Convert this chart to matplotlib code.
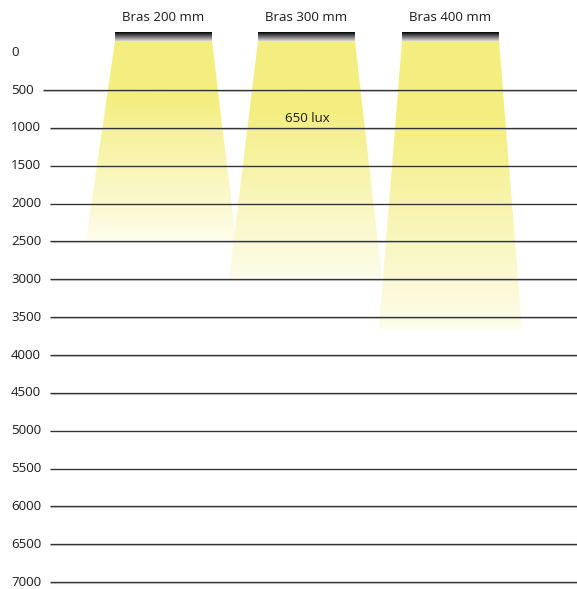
import numpy as np
import matplotlib
matplotlib.use("Agg")
import matplotlib.pyplot as plt
from matplotlib.patches import Polygon

plt.rcParams['font.family'] = ['Open Sans', 'DejaVu Sans']

# ---- data ----
depth_ticks = list(range(0, 7001, 500))
grid_depths = list(range(500, 7001, 500))
beam_labels = ["Bras 200 mm", "Bras 300 mm", "Bras 400 mm"]
beam_depths = [2500, 3000, 3650]          # reach of each beam (mm)
beam_top_left = [115, 258, 402]
beam_top_right = [212, 355, 499]
beam_bot_left = [86, 229, 379]
beam_bot_right = [236, 382, 522]
lux_label = "650 lux"
lux_pos = (307, 880)

lamp_top, lamp_bot = -254, -148

W, H = 577, 589
fig = plt.figure(figsize=(W / 100, H / 100), dpi=100)
ax = fig.add_axes([0, 0, 1, 1])
ax.set_xlim(0, W)
ax.set_ylim(7091, -690)
ax.axis('off')

yellow = np.array([244, 238, 128]) / 255.0
white = np.array([1.0, 1.0, 1.0])

for lab, d, tl, tr, bl, br in zip(beam_labels, beam_depths, beam_top_left,
                                  beam_top_right, beam_bot_left, beam_bot_right):
    # beam gradient
    n = 256
    t = np.linspace(0, 1, n)[:, None]
    f = np.clip((t - 0.3) / 0.7, 0, 1) ** 0.9 * 0.84
    cols = yellow[None, :] * (1 - f) + white[None, :] * f
    img = np.repeat(cols[:, None, :], 2, axis=1)
    im = ax.imshow(img, extent=(min(bl, tl), max(br, tr), d, lamp_bot),
                   aspect='auto', interpolation='bilinear', zorder=1)
    poly = Polygon([(tl, lamp_bot), (tr, lamp_bot), (br, d), (bl, d)],
                   closed=True, facecolor='none', edgecolor='none')
    ax.add_patch(poly)
    im.set_clip_path(poly)
    # lamp bar
    g = np.linspace(0.0, 0.85, 64)[:, None]
    lamp = np.repeat(np.repeat(g, 2, axis=1)[:, :, None], 3, axis=2)
    ax.imshow(lamp, extent=(tl, tr, lamp_bot, lamp_top), aspect='auto',
              interpolation='bilinear', zorder=2)
    ax.text((tl + tr) / 2, -455, lab, ha='center', va='center',
            fontsize=9.5, color='#1a1a1a', zorder=3)

ax.text(lux_pos[0], lux_pos[1], lux_label, ha='center', va='center',
        fontsize=9.5, color='#1a1a1a', zorder=3)

tick_texts = []
for v in depth_ticks:
    tt = ax.text(11, v, str(v), ha='left', va='center', fontsize=9.5,
                 color='#1a1a1a', zorder=3)
    tick_texts.append((v, tt))

fig.canvas.draw()
renderer = fig.canvas.get_renderer()
inv = ax.transData.inverted()
for v, tt in tick_texts:
    if v not in grid_depths:
        continue
    bb = tt.get_window_extent(renderer)
    x0 = inv.transform((bb.x1 + 9, 0))[0]
    ax.plot([x0, W], [v + 9, v + 9], color='#cfcfcf', lw=0.8, zorder=2.4,
            solid_capstyle='butt')
    ax.plot([x0, W], [v, v], color='#333333', lw=0.95, zorder=2.5,
            solid_capstyle='butt')

fig.savefig('out.png', dpi=100)
